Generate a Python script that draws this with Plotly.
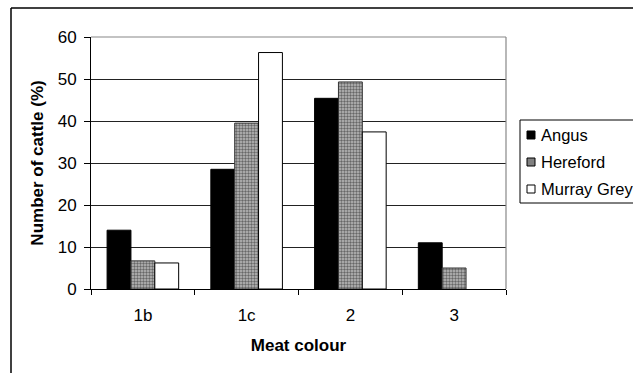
import plotly.graph_objects as go

categories = ["1b", "1c", "2", "3"]
angus = [14.0, 28.5, 45.4, 11.0]
hereford = [6.7, 39.5, 49.3, 5.0]
murray_grey = [6.2, 56.3, 37.4, None]
y_ticks = [0, 10, 20, 30, 40, 50, 60]
series_names = ["Angus", "Hereford", "Murray Grey"]

FONT = "Arial, Liberation Sans, sans-serif"
W, H = 633, 373
L, R, T, B = 91, 506, 37, 289

HEREFORD_PATTERN = dict(shape=".", fgcolor="#111", bgcolor="#bcbcbc", size=3, solidity=0.5)
styles = [
    dict(color="black", line=dict(color="black", width=1)),
    dict(color="#909090", line=dict(color="#333", width=1), pattern=HEREFORD_PATTERN),
    dict(color="white", line=dict(color="black", width=1)),
]
legend_fill = ["black", "#808080", "white"]

fig = go.Figure()
for name, vals, st in zip(series_names, [angus, hereford, murray_grey], styles):
    fig.add_trace(go.Bar(name=name, x=categories, y=vals, marker=st, showlegend=False))

def px_x(px):
    return (px - L) / (R - L)

def px_y(py):
    return (B - py) / (B - T)

def hline(x0, x1, y, color="black", width=1.0, layer="above"):
    return dict(type="line", xref="paper", yref="paper", x0=px_x(x0), x1=px_x(x1),
                y0=px_y(y), y1=px_y(y), line=dict(color=color, width=width), layer=layer)

def vline(x, y0, y1, color="black", width=1.0, layer="above"):
    return dict(type="line", xref="paper", yref="paper", x0=px_x(x), x1=px_x(x),
                y0=px_y(y0), y1=px_y(y1), line=dict(color=color, width=width), layer=layer)

shapes = [
    # outer frame (open at right and bottom)
    hline(11, 640, 8, width=1.5, layer="below"),
    vline(11, 8, 380, width=1.5, layer="below"),
    # top and right plot borders in grey
    hline(L, R, T, color="#888", width=1.2),
    vline(R, T, B, color="#888", width=1.2),
    # legend box (right edge beyond the picture)
    hline(520, 640, 120),
    hline(520, 640, 203),
    vline(520, 120, 203),
]
annotations = []
legend_y = [135, 162, 189]
for name, fill, cy in zip(series_names, legend_fill, legend_y):
    shapes.append(dict(type="rect", xref="paper", yref="paper",
                       x0=px_x(527), x1=px_x(535), y0=px_y(cy + 4), y1=px_y(cy - 4),
                       fillcolor=fill, line=dict(color="black", width=1), layer="above"))
    annotations.append(dict(text=name, xref="paper", yref="paper", x=px_x(539),
                            y=px_y(cy), xanchor="left", yanchor="middle", showarrow=False,
                            font=dict(family=FONT, size=16.5, color="black")))

fig.update_layout(
    width=W, height=H,
    margin=dict(l=L, r=W - R, t=T, b=H - B, autoexpand=False),
    paper_bgcolor="white", plot_bgcolor="white",
    font=dict(family=FONT, size=17, color="black"),
    barmode="group", bargap=0.31, bargroupgap=0,
    showlegend=False,
    shapes=shapes,
    annotations=annotations,
    xaxis=dict(type="category", showgrid=False, showline=True, linecolor="black",
               linewidth=1, ticks="outside", tickson="boundaries", ticklen=5,
               tickcolor="black", ticklabelstandoff=11,
               title=dict(text="<b>Meat colour</b>", standoff=14,
                          font=dict(family=FONT, size=17))),
    yaxis=dict(range=[0, 60], tickvals=y_ticks, showgrid=True, gridcolor="#222",
               gridwidth=1, showline=True, linecolor="black", linewidth=1,
               ticks="outside", ticklen=6, tickcolor="black", zeroline=False,
               ticklabelstandoff=4,
               title=dict(text="<b>Number of cattle (%)</b>", standoff=9,
                          font=dict(family=FONT, size=17))),
)

fig.write_html("out.html", config={"displayModeBar": False},
               post_script="document.body.style.margin='0';document.body.style.overflow='hidden';")
